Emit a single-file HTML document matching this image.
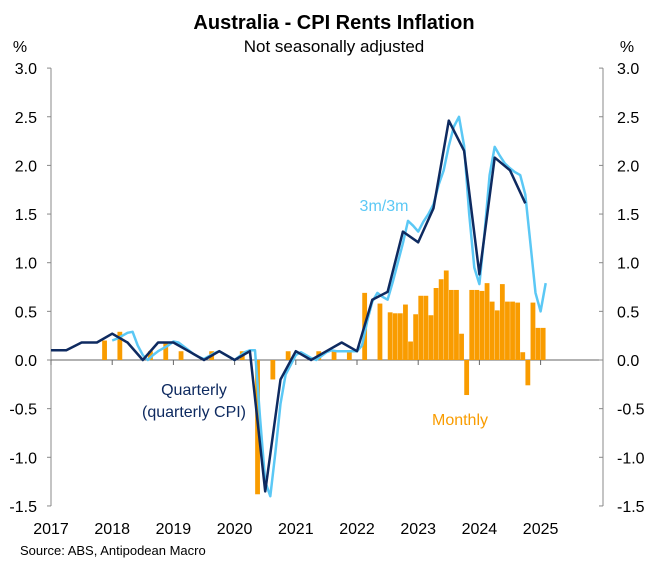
<!DOCTYPE html>
<html><head><meta charset="utf-8"><style>
body{margin:0;background:#fff;}
svg{display:block;font-family:"Liberation Sans",Arial,sans-serif;}
</style></head><body>
<svg id="chart" width="668" height="567" viewBox="0 0 668 567">
<text x="334" y="29" text-anchor="middle" font-size="20" font-weight="bold">Australia - CPI Rents Inflation</text>
<text x="334" y="52" text-anchor="middle" font-size="17">Not seasonally adjusted</text>
<text x="20" y="52" text-anchor="middle" font-size="16">%</text>
<text x="627" y="52" text-anchor="middle" font-size="16">%</text>
<g id="axes"></g>
<g id="bars"></g>
<g id="lines"></g>
<text x="384" y="211" text-anchor="middle" font-size="16" fill="#5bc8f5">3m/3m</text>
<text x="194" y="395" text-anchor="middle" font-size="16" fill="#0e2a60">Quarterly</text>
<text x="194" y="417" text-anchor="middle" font-size="16" fill="#0e2a60">(quarterly CPI)</text>
<text x="460" y="425" text-anchor="middle" font-size="16" fill="#f99c00">Monthly</text>
<text x="20" y="555" font-size="13">Source: ABS, Antipodean Macro</text>
</svg>
<script>
const yTicks=[3.0,2.5,2.0,1.5,1.0,0.5,0.0,-0.5,-1.0,-1.5];
const years=[2017,2018,2019,2020,2021,2022,2023,2024,2025];
// quarterly CPI rents (from 2017.0, every quarter)
const quarterlyVals=[0.1,0.1,0.18,0.18,0.27,0.18,0.0,0.18,0.18,0.09,0.0,0.09,0.0,0.09,-1.35,-0.2,0.09,0.0,0.09,0.18,0.09,0.62,0.70,1.32,1.21,1.56,2.46,2.15,0.88,2.08,1.95,1.61];
// monthly 3m/3m from Jan 2018
const m3Vals=[0.2,0.22,0.25,0.28,0.29,0.15,0.05,0.0,0.05,0.09,0.12,0.15,0.19,0.18,0.14,0.10,0.06,0.03,0.01,0.04,0.07,0.09,0.06,0.03,0.0,0.04,0.08,0.1,0.1,-0.6,-1.25,-1.4,-0.95,-0.45,-0.15,-0.05,0.05,0.08,0.05,0.02,0.0,0.04,0.08,0.1,0.09,0.09,0.09,0.09,0.09,0.15,0.4,0.6,0.69,0.65,0.62,0.8,1.0,1.2,1.43,1.38,1.32,1.42,1.5,1.6,1.8,1.95,2.2,2.4,2.5,2.2,1.5,0.95,0.78,1.3,1.9,2.19,2.1,2.02,1.97,1.93,1.9,1.7,1.2,0.69,0.5,0.79];
// monthly bars: month index from Jan 2017, value
const barMonths=[10,13,19,22,25,31,37,40,43,46,52,55,58,61,64,66,67,68,69,70,71,72,73,74,75,76,77,78,79,80,81,82,83,84,85,86,87,88,89,90,91,92,93,94,95,96];
const barVals=[0.2,0.29,0.09,0.19,0.09,0.09,0.09,-1.38,-0.2,0.09,0.09,0.09,0.09,0.69,0.58,0.49,0.48,0.48,0.57,0.19,0.47,0.66,0.66,0.46,0.74,0.83,0.92,0.72,0.72,0.27,-0.36,0.72,0.72,0.71,0.79,0.6,0.51,0.78,0.6,0.6,0.59,0.08,-0.26,0.59,0.33,0.33];

const NS='http://www.w3.org/2000/svg';
const X0=51,X1=603,YR=61.2;
const xT=t=>X0+(t-2017)*YR;
const yV=v=>360-v*97.3;
function mk(tag,attrs,parent){const e=document.createElementNS(NS,tag);for(const k in attrs)e.setAttribute(k,attrs[k]);parent.appendChild(e);return e;}
const ax=document.getElementById('axes');
let e=mk('line',{x1:X0,x2:X0,y1:yV(3),y2:yV(-1.5),stroke:'#888'},ax);


e=mk('line',{x1:X1,x2:X1,y1:yV(3),y2:yV(-1.5),stroke:'#888'},ax);


e=mk('line',{x1:X0,x2:X1,y1:yV(0),y2:yV(0),stroke:'#666'},ax);


yTicks.forEach(v=>{
 mk('line',{x1:X0-4,x2:X0,y1:yV(v),y2:yV(v),stroke:'#888'},ax);
 mk('line',{x1:X1-4,x2:X1,y1:yV(v),y2:yV(v),stroke:'#888'},ax);
 let t=mk('text',{x:37,y:yV(v)+6,'text-anchor':'end','font-size':16},ax);t.textContent=v.toFixed(1);
 
 
 t=mk('text',{x:617,y:yV(v)+6,'font-size':16},ax);t.textContent=v.toFixed(1);
 
 
});
years.forEach(y=>{
 mk('line',{x1:xT(y),x2:xT(y),y1:yV(0),y2:yV(0)+5,stroke:'#666'},ax);
 const t=mk('text',{x:xT(y),y:534,'text-anchor':'middle','font-size':16},ax);t.textContent=y;
 
 
});
const bg=document.getElementById('bars');
barMonths.forEach((m,i)=>{
 const v=barVals[i],cx=xT(2017+(m+0.5)/12);
 const r=mk('rect',{x:cx-2.4,width:4.8,y:Math.min(yV(v),yV(0)),height:Math.abs(yV(v)-yV(0)),fill:'#f99c00'},bg);
 
 
});
const lg=document.getElementById('lines');
const p1=m3Vals.map((v,i)=>xT(2018+i/12).toFixed(1)+','+yV(v).toFixed(1)).join(' ');
e=mk('polyline',{points:p1,fill:'none',stroke:'#5bc8f5','stroke-width':2.5,'stroke-linejoin':'round'},lg);


const p2=quarterlyVals.map((v,i)=>xT(2017+i*0.25).toFixed(1)+','+yV(v).toFixed(1)).join(' ');
e=mk('polyline',{points:p2,fill:'none',stroke:'#0e2a60','stroke-width':2.5,'stroke-linejoin':'round'},lg);


</script>
</body></html>
